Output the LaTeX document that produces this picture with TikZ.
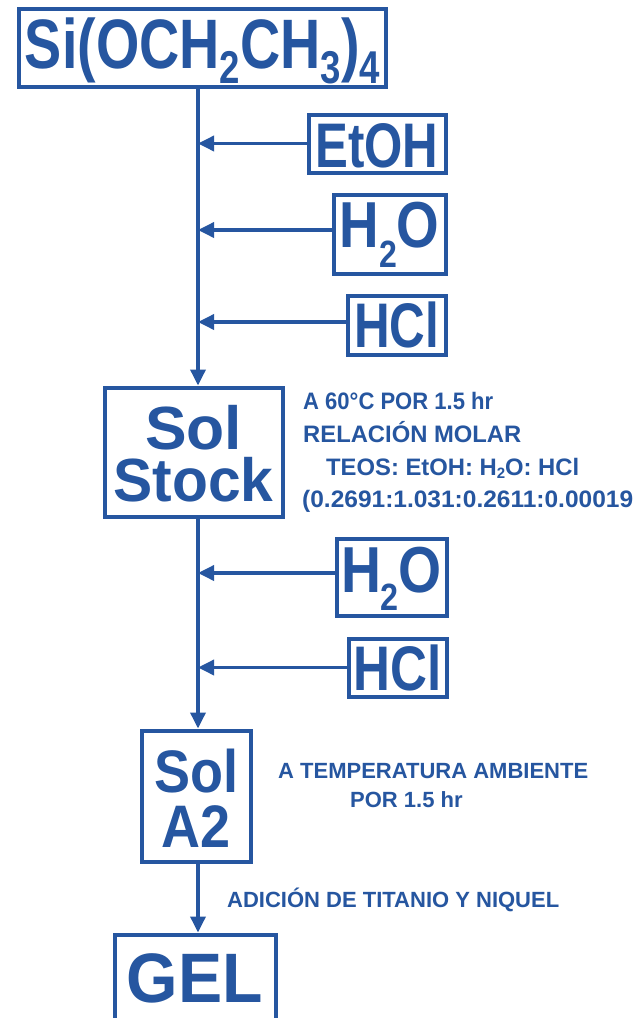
\documentclass[tikz,border=0pt]{standalone}
\usepackage{fontspec}
\setmainfont{Liberation Sans}
\usepackage{graphicx}
\usetikzlibrary{arrows.meta}
\definecolor{ink}{RGB}{38,86,160}
\newcommand\fitw[3]{\resizebox{#1pt}{\height}{\fontsize{#2pt}{#2pt}\selectfont #3}}
\newcommand\fitn[2]{\resizebox{#1pt}{\height}{#2}}
\newcommand\subd[3]{\raisebox{-#1pt}{\fontsize{#2pt}{#2pt}\selectfont #3}}
\newcommand\twoline[3]{\vtop{\baselineskip=#1pt\lineskiplimit=-100pt\hbox to 0pt{\hss#2\hss}\hbox to 0pt{\hss#3\hss}}}
\begin{document}
\begin{tikzpicture}[x=1pt,y=-1pt,
  box/.style={draw=ink, line width=4pt, inner sep=0pt, text=ink, font=\bfseries},
  arr/.style={draw=ink, line width=3.5pt, -{Triangle[length=16pt,width=15pt]}},
  note/.style={text=ink, font=\bfseries\fontsize{23.8pt}{24pt}\selectfont, anchor=base west, inner sep=0pt},
  notes/.style={text=ink, font=\bfseries\fontsize{22pt}{24pt}\selectfont, anchor=base west, inner sep=0pt}]
\clip (0,0) rectangle (644,1018);
\fill[white] (0,0) rectangle (644,1018);
\coordinate (spine) at (198,0);

\node[box, minimum width=367pt, minimum height=78pt, text height=41pt, text depth=0pt] (top) at (202.5,47.5)
  {\fitw{355}{70}{Si(OCH\subd{15}{46}{2}CH\subd{15}{46}{3})\subd{15}{46}{4}}};
\node[box, minimum width=137pt, minimum height=58pt, text height=47pt, text depth=0pt] (etoh) at (377,143.5)
  {\fitw{123}{63}{EtOH}};
\node[box, minimum width=112pt, minimum height=79pt, text height=26pt, text depth=0pt] (h2oa) at (389.5,234)
  {\fitw{100}{65}{H\subd{20}{38}{2}O}};
\node[box, minimum width=98pt, minimum height=59pt, text height=44pt, text depth=0pt] (hcla) at (396.5,325)
  {\fitw{85}{63}{HCl}};
\node[box, minimum width=178pt, minimum height=129pt, text height=0pt, text depth=6pt] (stock) at (193.5,452)
  {\twoline{52}{\fitw{97}{61}{Sol}}{\fitw{160}{61}{Stock}}};
\node[box, minimum width=110pt, minimum height=77pt, text height=30pt, text depth=0pt] (h2ob) at (391.5,577)
  {\fitw{101}{65}{H\subd{18}{38}{2}O}};
\node[box, minimum width=98pt, minimum height=58pt, text height=45pt, text depth=0pt] (hclb) at (397.5,667.5)
  {\fitw{88}{63}{HCl}};
\node[box, minimum width=109pt, minimum height=131pt, text height=0pt, text depth=8pt] (a2) at (196,796)
  {\twoline{55}{\fitw{84}{60}{Sol}}{\fitw{69}{60}{A2}}};
\node[box, minimum width=161pt, minimum height=104pt, text height=31pt, text depth=0pt] (gel) at (195,986.5)
  {\fitw{136}{70}{GEL}};

\node[note] (t1) at (303,409) {\fitn{190}{A 60°C POR 1.5 hr}};
\node[note] (t2) at (303,442) {RELACIÓN MOLAR};
\node[note] (t3) at (326,475) {TEOS: EtOH: H\subd{3}{15}{2}O: HCl};
\node[note] (t4) at (302,507) {\fitn{331}{(0.2691:1.031:0.2611:0.00019}};
\node[notes] (t5) at (278,778) {A TEMPERATURA AMBIENTE};
\node[notes] (t6) at (350,807) {POR 1.5 hr};
\node[notes] (t7) at (227,907) {ADICIÓN DE TITANIO Y NIQUEL};

\draw[arr] (top.south -| spine) -- (stock.north -| spine);
\draw[arr] (etoh.west) -- (etoh.west -| spine);
\draw[arr] ([yshift=4pt]h2oa.west) -- ([yshift=4pt]h2oa.west -| spine);
\draw[arr] ([yshift=3pt]hcla.west) -- ([yshift=3pt]hcla.west -| spine);
\draw[arr] (stock.south -| spine) -- (a2.north -| spine);
\draw[arr] ([yshift=4pt]h2ob.west) -- ([yshift=4pt]h2ob.west -| spine);
\draw[arr] (hclb.west) -- (hclb.west -| spine);
\draw[arr] (a2.south -| spine) -- (gel.north -| spine);
\end{tikzpicture}
\end{document}
